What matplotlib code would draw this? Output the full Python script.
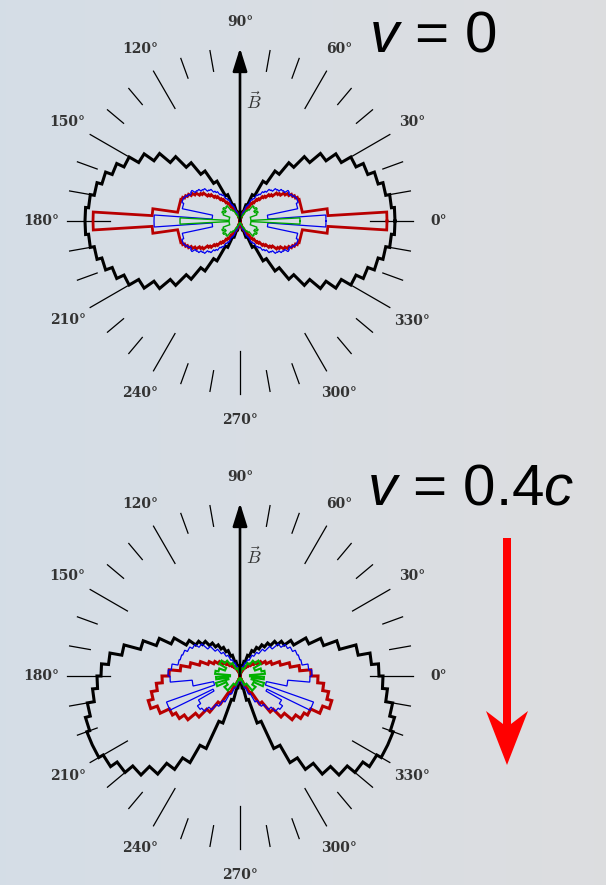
import matplotlib.pyplot as plt
import numpy as np
from matplotlib.patches import Polygon

plt.rcParams['mathtext.fontset'] = 'custom'
plt.rcParams['mathtext.rm'] = 'Liberation Sans'
plt.rcParams['mathtext.it'] = 'Liberation Sans:italic'

W, H = 606, 885
R_MAX = 205

# ---- data: top panel (v = 0), one quadrant 0..90 deg, mirrored ----
top_black_edges = list(range(0, 95, 5))
top_black_r = [155, 152, 148, 143, 136, 128, 117, 105, 91, 76, 61, 46, 29, 17, 9, 4, 2, 1]

top_red_edges = [0, 3.5, 8] + list(np.arange(20, 90.1, 2.5))
top_red_r = [147, 88, 63,
             62, 60, 58, 55, 52, 48, 46, 41, 39, 35,
             33, 29, 27, 23, 21, 17, 15, 12, 10, 8,
             6, 5, 4, 3, 2.5, 2, 1.5, 1]

top_blue_edges = [0, 4, 12, 17.5, 22.5] + list(np.arange(25, 75.1, 2.5)) + [80, 85, 90]
top_blue_r = [86, 28, 59, 61, 60,
              58, 56, 57, 53, 52, 49, 48, 44, 43, 39,
              37, 33, 31, 26, 24, 18, 16, 10, 8, 5,
              3, 2, 1]

top_green_edges = [0, 3, 20, 25, 30, 35, 40, 45, 50, 55, 60, 65, 70, 80, 90]
top_green_r = [60, 11, 18, 20, 17, 21, 19, 20, 14, 12, 8, 5, 3, 1]

# ---- data: bottom panel (v = 0.4c), right half -90..90 deg, mirrored ----
bot_black_edges = list(range(-90, 95, 5))
bot_black_r = [3, 6, 12, 25, 50, 80, 100, 114, 128, 140, 150, 158, 163, 163, 160, 155, 148, 143,
               139, 132, 120, 103, 89, 76, 62, 54, 49, 43, 38, 33, 28, 22, 15, 10, 6, 3]

bot_red_edges = list(range(-90, 95, 5))
bot_red_r = [1, 2, 3, 4, 7, 12, 20, 34, 47, 58, 68, 74, 78, 88, 95, 90, 84, 78,
             71, 60, 51, 42, 34, 29, 25, 21, 18, 15, 13, 11, 9, 7, 5, 3, 2, 1]

bot_blue_edges = [-90, -80, -75, -70, -65, -60, -55, -50, -45, -40, -35, -30, -26, -19.5, -12, -5, 0,
                  5, 10, 15, 20, 25, 30, 35, 40, 45, 50, 55, 60, 65, 70, 75, 80, 85, 90]
bot_blue_r = [2, 5, 8, 13, 20, 30, 37, 44, 50, 52, 48, 30, 78, 27, 48, 70,
              72, 69, 63, 62, 61, 58, 55, 50, 42, 35, 29, 24, 18, 14, 10, 7, 4, 2]

bot_green_edges = [-90, -80, -65, -50, -35, -24, -16, -8, -2, 5, 12, 20, 30, 40, 50, 60, 75, 90]
bot_green_r = [2, 4, 10, 19, 15, 25, 12, 24, 10, 25, 22, 16, 24, 20, 15, 8, 3]

angle_labels = list(range(0, 360, 30))


def mirror_quadrant(edges, vals):
    e = np.asarray(edges, float)
    v = np.asarray(vals, float)
    e_full = np.concatenate([e, 180 - e[::-1][1:], 180 + e[1:], 360 - e[::-1][1:]])
    v_full = np.concatenate([v, v[::-1], v, v[::-1]])
    return e_full, v_full


def mirror_half(edges, vals):
    e = np.asarray(edges, float)
    v = np.asarray(vals, float)
    return np.concatenate([e, 180 - e[::-1][1:]]), np.concatenate([v, v[::-1]])


def step(edges, vals):
    th = np.repeat(edges, 2)[1:-1]
    r = np.repeat(vals, 2)
    th = np.append(th, th[0])
    r = np.append(r, r[0])
    return np.deg2rad(th), r


fig = plt.figure(figsize=(W / 100, H / 100), dpi=100)

# background gradient
bg = fig.add_axes([0, 0, 1, 1], zorder=-5)
left_c = np.array([0.835, 0.868, 0.905])
right_c = np.array([0.866, 0.870, 0.878])
t = np.linspace(0, 1, 200)[None, :, None]
grad = left_c * (1 - t) + right_c * t
bg.imshow(np.repeat(grad, 2, axis=0), aspect='auto', extent=[0, 1, 0, 1])
bg.axis('off')


def make_panel(cy, curves):
    rect = [(240 - R_MAX) / W, (H - cy - R_MAX) / H, 2 * R_MAX / W, 2 * R_MAX / H]
    ax = fig.add_axes(rect, projection='polar')
    ax.set_ylim(0, R_MAX)
    ax.axis('off')
    ax.patch.set_alpha(0)

    for a in range(0, 360, 10):
        if a == 90:
            continue
        r0 = 130 if a % 30 == 0 else 152
        ax.plot([np.deg2rad(a)] * 2, [r0, 173], color='k', lw=0.9)
    for a in angle_labels:
        ax.text(np.deg2rad(a), 199, f'{a}°', ha='center', va='center', fontsize=10,
                family='DejaVu Serif', weight='bold', color='#333333')

    for edges, vals, color, lw in curves:
        th, r = step(edges, vals)
        ax.plot(th, r, color=color, lw=lw, solid_joinstyle='miter')

    ax.annotate('', xy=(np.pi / 2, 173), xytext=(np.pi / 2, 0),
                arrowprops=dict(arrowstyle='-|>,head_length=0.7,head_width=0.22',
                                color='k', lw=1.9, shrinkA=0, shrinkB=0, mutation_scale=20))
    ax.text(np.deg2rad(83.5), 120, r'$\vec{B}$', fontsize=13, math_fontfamily='cm',
            ha='center', va='center', color='#333333')
    return ax


top_curves = [
    (*mirror_quadrant(top_black_edges, top_black_r), 'black', 2.2),
    (*mirror_quadrant(top_red_edges, top_red_r), '#b80000', 2.0),
    (*mirror_quadrant(top_blue_edges, top_blue_r), '#0000f0', 0.9),
    (*mirror_quadrant(top_green_edges, top_green_r), '#00a800', 1.0),
]
bot_curves = [
    (*mirror_half(bot_black_edges, bot_black_r), 'black', 2.2),
    (*mirror_half(bot_red_edges, bot_red_r), '#b80000', 2.2),
    (*mirror_half(bot_blue_edges, bot_blue_r), '#0000f0', 0.9),
    (*mirror_half(bot_green_edges, bot_green_r), '#00b000', 1.5),
]

make_panel(221, top_curves)
make_panel(676, bot_curves)

fig.text(369 / W, 1 - 52 / H, '$v$ = 0', fontsize=42, family='Liberation Sans',
         math_fontfamily='custom', ha='left', va='baseline', color='black')
fig.text(367 / W, 1 - 505 / H, '$v$ = 0.4$c$', fontsize=42, family='Liberation Sans',
         math_fontfamily='custom', ha='left', va='baseline', color='black')

# red velocity arrow
arrow_px = [(503, 538), (511, 538), (511, 724), (528, 711), (507, 765), (486, 711), (503, 724)]
fig.patches.append(Polygon([(x / W, 1 - y / H) for x, y in arrow_px], closed=True,
                           transform=fig.transFigure, facecolor='#ff0000', edgecolor='none'))

fig.savefig('out.png', dpi=100)
